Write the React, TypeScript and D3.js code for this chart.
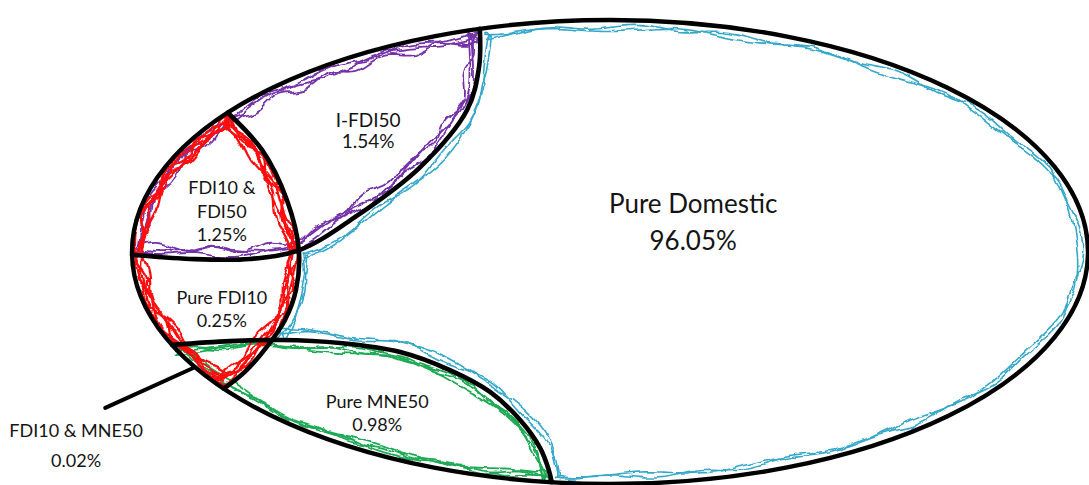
import * as d3 from 'd3';

type Pt = [number, number];

const W = 1089;
const H = 485;

// regions of the diagram and their shares (%)
const regionNames = ['Pure Domestic', 'I-FDI50', 'FDI10 & FDI50', 'Pure FDI10', 'Pure MNE50', 'FDI10 & MNE50'];
const regionShares = [96.05, 1.54, 1.25, 0.25, 0.98, 0.02];
const labelLines = [['Pure Domestic'], ['I-FDI50'], ['FDI10 &', 'FDI50'], ['Pure FDI10'], ['Pure MNE50'], ['FDI10 & MNE50']];

// layout, in units of the outer ellipse (-1..1 on both axes)
const labelAnchors: Pt[] = [[0.174, -0.168], [-0.506, -0.539], [-0.812, -0.25], [-0.812, 0.224], [-0.487, 0.672], [-1.117, 0.797]];
const labelFont = [26, 19, 18, 18, 18, 18];
const labelLead = [37, 21.5, 23.5, 23, 23, 30];
const pointer: Pt[] = [[-1.056, 0.672], [-0.872, 0.5]];

// set boundaries: end angles on the outer ellipse (deg) + inner control points
const cut50Ends = [-105.8, 179.3];
const cut50Inner: Pt[] = [[-0.274, -0.797], [-0.299, -0.612], [-0.397, -0.366], [-0.533, -0.151], [-0.649, -0.009], [-0.753, 0.03], [-0.879, 0.03]];
const lensEnds = [-143.1, 143.9];
const lensInner: Pt[] = [[-0.728, -0.44], [-0.676, -0.224], [-0.651, -0.009], [-0.657, 0.164], [-0.68, 0.293], [-0.718, 0.409], [-0.764, 0.517]];
const mneEnds = [156.4, 97.0];
const mneInner: Pt[] = [[-0.795, 0.384], [-0.69, 0.379], [-0.565, 0.392], [-0.439, 0.431], [-0.335, 0.509], [-0.251, 0.603], [-0.188, 0.724], [-0.146, 0.845], [-0.128, 0.94]];

const x = d3.scaleLinear().domain([-1, 1]).range([132, 1088]);
const y = d3.scaleLinear().domain([-1, 1]).range([20, 484]);
const rad = Math.PI / 180;
const onOuter = (deg: number): Pt => [x(Math.cos(deg * rad)), y(Math.sin(deg * rad))];
const toPx = ([u, v]: Pt): Pt => [x(u), y(v)];

const curve = d3.line<Pt>().curve(d3.curveCatmullRom.alpha(0.5));
const closed = d3.line<Pt>().curve(d3.curveLinearClosed);

// turn a catmull-rom curve into a polyline
function sampleCurve(pts: Pt[], n = 12): Pt[] {
  const out: Pt[] = [];
  let cx = 0, cy = 0;
  const ctx: any = {
    moveTo(a: number, b: number) { out.push([a, b]); cx = a; cy = b; },
    lineTo(a: number, b: number) { out.push([a, b]); cx = a; cy = b; },
    bezierCurveTo(x1: number, y1: number, x2: number, y2: number, a: number, b: number) {
      for (let i = 1; i <= n; i++) {
        const t = i / n, m = 1 - t;
        out.push([
          m * m * m * cx + 3 * m * m * t * x1 + 3 * m * t * t * x2 + t * t * t * a,
          m * m * m * cy + 3 * m * m * t * y1 + 3 * m * t * t * y2 + t * t * t * b,
        ]);
      }
      cx = a; cy = b;
    },
    closePath() {},
  };
  d3.line<Pt>().curve(d3.curveCatmullRom.alpha(0.5)).context(ctx)(pts);
  return out;
}

function arc(t0: number, t1: number, n = 90): Pt[] {
  return d3.range(n + 1).map((i) => onOuter(t0 + ((t1 - t0) * i) / n));
}

function intersect(a: Pt[], b: Pt[]) {
  for (let i = 0; i < a.length - 1; i++) {
    for (let j = 0; j < b.length - 1; j++) {
      const rx = a[i + 1][0] - a[i][0], ry = a[i + 1][1] - a[i][1];
      const sx = b[j + 1][0] - b[j][0], sy = b[j + 1][1] - b[j][1];
      const den = rx * sy - ry * sx;
      if (Math.abs(den) < 1e-9) continue;
      const qx = b[j][0] - a[i][0], qy = b[j][1] - a[i][1];
      const t = (qx * sy - qy * sx) / den;
      const u = (qx * ry - qy * rx) / den;
      if (t >= 0 && t <= 1 && u >= 0 && u <= 1) {
        return { i, j, p: [a[i][0] + rx * t, a[i][1] + ry * t] as Pt };
      }
    }
  }
  return { i: 0, j: 0, p: a[0] };
}

function resample(pts: Pt[], step: number): Pt[] {
  const ring = [...pts, pts[0]];
  const out: Pt[] = [pts[0]];
  let need = step;
  for (let i = 0; i < ring.length - 1; i++) {
    const [x0, y0] = ring[i];
    const [x1, y1] = ring[i + 1];
    const len = Math.hypot(x1 - x0, y1 - y0);
    let pos = 0;
    while (len - pos >= need) {
      pos += need;
      out.push([x0 + ((x1 - x0) * pos) / len, y0 + ((y1 - y0) * pos) / len]);
      need = step;
    }
    need -= len - pos;
  }
  return out;
}

function inset(pts: Pt[], d: (s: number) => number): Pt[] {
  const n = pts.length;
  let area = 0;
  for (let i = 0; i < n; i++) {
    const a = pts[i], b = pts[(i + 1) % n];
    area += a[0] * b[1] - b[0] * a[1];
  }
  const sgn = area > 0 ? 1 : -1;
  return pts.map((p, i) => {
    const a = pts[(i - 2 + n) % n], b = pts[(i + 2) % n];
    let tx = b[0] - a[0], ty = b[1] - a[1];
    const L = Math.hypot(tx, ty) || 1;
    tx /= L; ty /= L;
    const k = d(i * 3);
    return [p[0] - ty * sgn * k, p[1] + tx * sgn * k] as Pt;
  });
}

// boundary curves in pixels
const cut50Ctrl: Pt[] = [onOuter(cut50Ends[0]), ...cut50Inner.map(toPx), onOuter(cut50Ends[1])];
const lensCtrl: Pt[] = [onOuter(lensEnds[0]), ...lensInner.map(toPx), onOuter(lensEnds[1])];
const mneCtrl: Pt[] = [onOuter(mneEnds[0]), ...mneInner.map(toPx), onOuter(mneEnds[1])];
const cut50 = sampleCurve(cut50Ctrl);
const lens = sampleCurve(lensCtrl);
const mne = sampleCurve(mneCtrl);

// set outlines
const fdi50Poly: Pt[] = [...cut50, ...arc(cut50Ends[1], cut50Ends[0] + 360)];
const lensPoly: Pt[] = [...lens, ...arc(lensEnds[1], lensEnds[0] + 360)];
const mnePoly: Pt[] = [...mne, ...arc(mneEnds[1], mneEnds[0])];
const xLM = intersect(lens, mne);
const xL5 = intersect(lens, cut50);
const domesticPoly: Pt[] = [
  ...arc(cut50Ends[0], mneEnds[1], 160),
  ...mne.slice(xLM.j + 1).reverse(),
  xLM.p,
  ...lens.slice(xL5.i + 1, xLM.i + 1).reverse(),
  xL5.p,
  ...cut50.slice(0, xL5.j + 1).reverse(),
];

const scribbles = [
  { poly: domesticPoly, color: '#35a7c9', width: 1.6, rough: 7, passes: [[7, 2, 0.07, 0], [9, 2.5, 0.045, 2]] },
  { poly: fdi50Poly, color: '#7431a8', width: 1.8, rough: 9, passes: [[5, 2, 0.08, 0], [8, 3, 0.05, 1], [11, 3, 0.11, 2.5]] },
  { poly: mnePoly, color: '#1faa55', width: 1.8, rough: 7, passes: [[5, 1.5, 0.06, 0], [8, 2.5, 0.04, 1.7], [6, 2, 0.09, 3]] },
  { poly: lensPoly, color: '#ff1010', width: 2.3, rough: 8, passes: [[4, 2, 0.07, 0], [6, 3, 0.1, 1], [9, 3, 0.06, 2], [12, 3, 0.09, 3.1], [7, 4, 0.13, 4]] },
];

export default function App() {
  return (
    <svg width={W} height={H} viewBox={`0 0 ${W} ${H}`} style={{ position: 'absolute', left: 0, top: 0, background: '#fff' }}>
      <defs>
        {scribbles.map((sc, k) =>
          sc.passes.map((_, i) => (
            <filter key={`${k}-${i}`} id={`rough${k}-${i}`} x="-5%" y="-5%" width="110%" height="110%">
              <feTurbulence type="fractalNoise" baseFrequency="0.045" numOctaves={3} seed={k * 11 + i * 5 + 1} result="n" />
              <feDisplacementMap in="SourceGraphic" in2="n" scale={sc.rough} xChannelSelector="R" yChannelSelector="G" />
            </filter>
          )),
        )}
      </defs>
      <rect width={W} height={H} fill="#fff" />

      {scribbles.map((sc, k) => {
        const base = resample(sc.poly, 3);
        return (
          <g key={k} fill="none" stroke={sc.color} strokeWidth={sc.width} strokeLinejoin="round">
            {sc.passes.map(([d, amp, f, ph], i) => (
              <path
                key={i}
                filter={`url(#rough${k}-${i})`}
                d={closed(inset(base, (s) => d + amp * Math.sin(f * s + ph))) ?? ''}
              />
            ))}
          </g>
        );
      })}

      <g fill="none" stroke="#000" strokeLinecap="round">
        <ellipse cx={x(0)} cy={y(0)} rx={x(1) - x(0)} ry={y(1) - y(0)} strokeWidth={4.4} />
        <path d={curve(cut50Ctrl) ?? ''} strokeWidth={4.6} />
        <path d={curve(lensCtrl) ?? ''} strokeWidth={4.6} />
        <path d={curve(mneCtrl) ?? ''} strokeWidth={4.6} />
        <line x1={x(pointer[0][0])} y1={y(pointer[0][1])} x2={x(pointer[1][0])} y2={y(pointer[1][1])} strokeWidth={4} />
      </g>

      <g fontFamily="Lato, 'Open Sans', sans-serif" fill="#141414" textAnchor="middle">
        {regionNames.map((name, i) => {
          const lines = [...labelLines[i], `${regionShares[i].toFixed(2)}%`];
          return (
            <text key={name} x={x(labelAnchors[i][0])} y={y(labelAnchors[i][1])} fontSize={labelFont[i]}>
              {lines.map((t, j) => (
                <tspan key={j} x={x(labelAnchors[i][0])} dy={j === 0 ? 0 : labelLead[i]}>
                  {t}
                </tspan>
              ))}
            </text>
          );
        })}
      </g>
    </svg>
  );
}
